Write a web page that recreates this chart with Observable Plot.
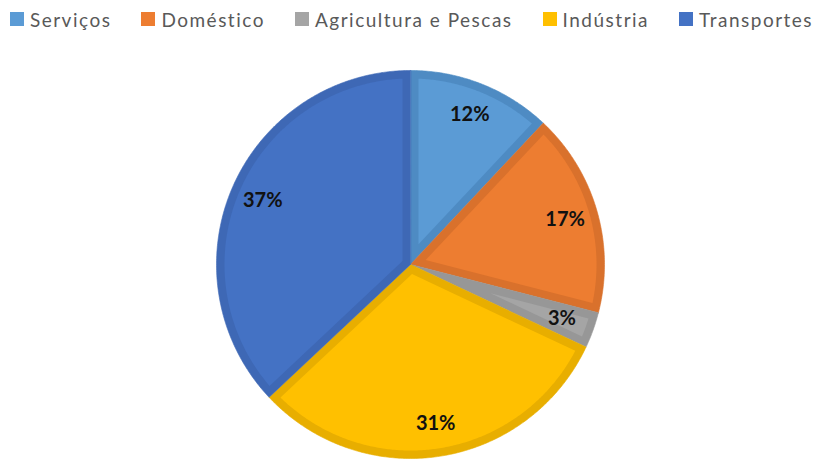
<!DOCTYPE html>
<html>
<head>
<meta charset="utf-8">
<script src="https://cdn.jsdelivr.net/npm/d3@7"></script>
<script src="https://cdn.jsdelivr.net/npm/@observablehq/plot@0.6"></script>
<style>
  html, body { margin: 0; padding: 0; background: #fff; }
  #legend { display: flex; justify-content: center; align-items: center; height: 38px; gap: 30px;
            font-family: Lato, "Open Sans", sans-serif; font-size: 19px; letter-spacing: 1.5px; color: #595959;
            padding-left: 4px; }
  #legend .item { display: flex; align-items: center; gap: 6px; white-space: nowrap; }
  #legend .sw { width: 14px; height: 14px; display: inline-block; }
  svg { display: block; }
</style>
</head>
<body>
<div id="legend"></div>
<div id="chart"></div>
<script>
const categories = ["Serviços", "Doméstico", "Agricultura e Pescas", "Indústria", "Transportes"];
const values = [12, 17, 3, 31, 37];
const labels = ["12%", "17%", "3%", "31%", "37%"];
const fillColors = ["#5B9BD5", "#ED7D31", "#A5A5A5", "#FFC000", "#4472C4"];
const bandColors = ["#4E8BC3", "#D9712C", "#979797", "#E8AE00", "#3E68B5"];

const W = 819, H = 421;
const R = 194;            // pie radius in px
const band = 8 / R;       // inner border width (unit radius)
const labelR = 0.83;

const total = d3.sum(values);
let acc = 0;
const slices = values.map((v, i) => {
  const a0 = acc / total * 2 * Math.PI;
  acc += v;
  const a1 = acc / total * 2 * Math.PI;
  return {category: categories[i], value: v, label: labels[i], a0, a1, i};
});

const pt = (r, a) => [r * Math.sin(a), -r * Math.cos(a)];

function wedge(a0, a1) {
  const n = Math.max(4, Math.ceil((a1 - a0) / (Math.PI / 360)));
  const ring = [[0, 0]];
  for (let k = 0; k <= n; k++) ring.push(pt(1, a0 + (a1 - a0) * k / n));
  ring.push([0, 0]);
  return ring;
}
function insetWedge(a0, a1, d) {
  const half = (a1 - a0) / 2;
  const apex = pt(d / Math.sin(half), a0 + half);
  const rho = 1 - d;
  const delta = Math.asin(d / rho);
  const b0 = a0 + delta, b1 = a1 - delta;
  const n = Math.max(4, Math.ceil((b1 - b0) / (Math.PI / 360)));
  const ring = [apex];
  for (let k = 0; k <= n; k++) ring.push(pt(rho, b0 + (b1 - b0) * k / n));
  ring.push(apex);
  return ring;
}

const feature = (ring, s) => ({type: "Feature", properties: s, geometry: {type: "Polygon", coordinates: [ring]}});
const outer = slices.map(s => feature(wedge(s.a0, s.a1), s));
const inner = slices.map(s => feature(insetWedge(s.a0, s.a1, band), s));

const labelData = slices.map(s => {
  const [x, y] = pt(labelR, (s.a0 + s.a1) / 2);
  return {x, y, label: s.label};
});

const cx = 410, cy = 226;
const marks = [];
outer.forEach((f, i) => marks.push(Plot.geo([f], {fill: bandColors[i], stroke: bandColors[i], strokeWidth: 0.6})));
marks.push(Plot.geo(inner, {fill: d => d.properties.category}));
marks.push(Plot.text(labelData, {x: "x", y: "y", text: "label", fontWeight: "bold", fontSize: 20,
  fontFamily: "Lato, 'Open Sans', sans-serif", fill: "#111"}));

const chart = Plot.plot({
  width: W, height: H,
  marginLeft: cx - R, marginRight: W - cx - R, marginTop: cy - R, marginBottom: H - cy - R,
  projection: {type: "identity", domain: {type: "MultiPoint", coordinates: [[-1, -1], [1, 1]]}},
  color: {type: "ordinal", domain: categories, range: fillColors},
  marks
});
document.getElementById("chart").appendChild(chart);

const legend = document.getElementById("legend");
categories.forEach((c, i) => {
  const item = document.createElement("span");
  item.className = "item";
  const sw = document.createElement("span");
  sw.className = "sw";
  sw.style.background = fillColors[i];
  const t = document.createElement("span");
  t.textContent = c;
  item.appendChild(sw); item.appendChild(t);
  legend.appendChild(item);
});
</script>
</body>
</html>
